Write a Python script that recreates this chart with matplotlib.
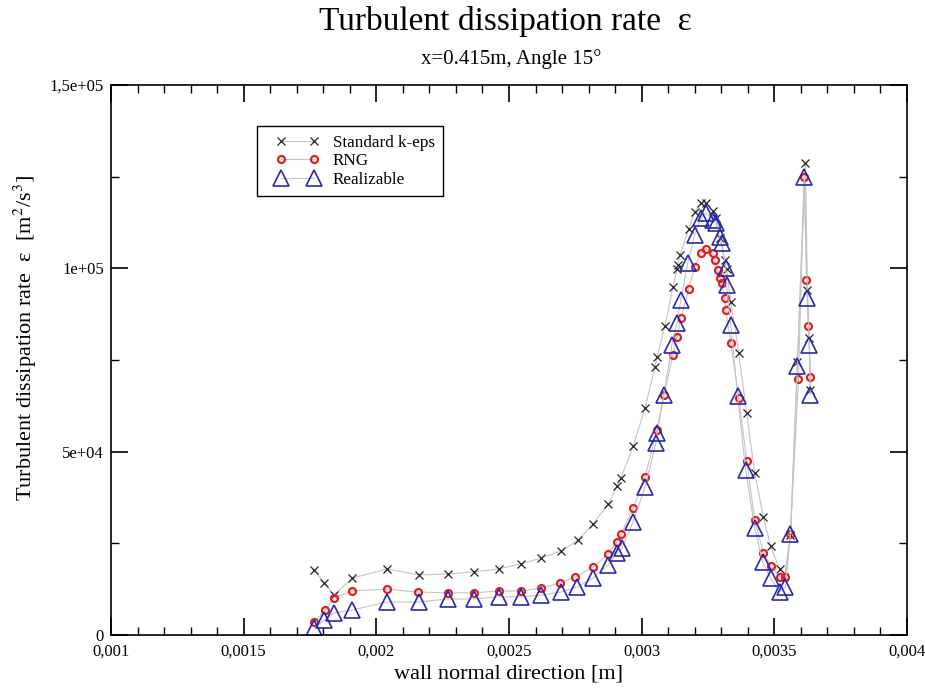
import matplotlib
matplotlib.use("Agg")
import matplotlib.pyplot as plt
from matplotlib.ticker import MultipleLocator
from matplotlib.legend_handler import HandlerLine2D

# wall-normal position [m] and epsilon [m2/s3]
x_std = [0.001766, 0.001804, 0.001841, 0.001909, 0.002040, 0.002160, 0.002269, 0.002367,
         0.002461, 0.002547, 0.002622, 0.002697, 0.002761, 0.002817, 0.002874, 0.002907,
         0.002922, 0.002968, 0.003013, 0.003050, 0.003058, 0.003088, 0.003118, 0.003133,
         0.003137, 0.003144, 0.003178, 0.003200, 0.003223, 0.003242, 0.003268, 0.003279,
         0.003294, 0.003313, 0.003320, 0.003336, 0.003366, 0.003396, 0.003426, 0.003459,
         0.003486, 0.003520, 0.003538, 0.003561, 0.003587, 0.003617, 0.003625, 0.003632,
         0.003636]
eps_std = [17700, 14200, 10900, 15500, 18000, 16400, 16600, 17200, 18000, 19400,
           21000, 22900, 25900, 30300, 35700, 40600, 42800, 51500, 61900, 73100,
           75800, 84300, 94900, 99800, 100900, 103600, 110700, 115400, 117800, 117800,
           115600, 113700, 108300, 102300, 99800, 90800, 76900, 60500, 44200, 32200,
           24300, 18000, 15800, 27300, 74500, 128700, 94100, 81000, 66800]

x_rng = [0.001766, 0.001807, 0.001841, 0.001909, 0.002040, 0.002156, 0.002269, 0.002367,
         0.002461, 0.002547, 0.002622, 0.002693, 0.002750, 0.002817, 0.002874, 0.002907,
         0.002922, 0.002968, 0.003013, 0.003058, 0.003084, 0.003118, 0.003133, 0.003148,
         0.003178, 0.003200, 0.003223, 0.003242, 0.003268, 0.003275, 0.003287, 0.003294,
         0.003302, 0.003313, 0.003317, 0.003336, 0.003366, 0.003396, 0.003426, 0.003459,
         0.003489, 0.003520, 0.003542, 0.003561, 0.003591, 0.003613, 0.003621, 0.003628,
         0.003636]
eps_rng = [3500, 6800, 10100, 12000, 12500, 11700, 11500, 11500, 12000, 12000,
           12800, 14200, 15800, 18500, 22100, 25400, 27500, 34600, 43100, 56000,
           65500, 76400, 81300, 86500, 94400, 100400, 104200, 105300, 104200, 102300,
           99500, 97400, 96000, 91900, 88600, 79600, 64600, 47500, 31400, 22400,
           18800, 15800, 15800, 27500, 69800, 124900, 96800, 84300, 70400]

x_rea = [0.001766, 0.001804, 0.001841, 0.001909, 0.002040, 0.002160, 0.002269, 0.002367,
         0.002461, 0.002547, 0.002622, 0.002697, 0.002757, 0.002817, 0.002874, 0.002907,
         0.002926, 0.002968, 0.003013, 0.003054, 0.003058, 0.003084, 0.003114, 0.003133,
         0.003148, 0.003174, 0.003200, 0.003223, 0.003242, 0.003268, 0.003279, 0.003294,
         0.003302, 0.003317, 0.003320, 0.003336, 0.003362, 0.003392, 0.003426, 0.003456,
         0.003486, 0.003520, 0.003542, 0.003561, 0.003587, 0.003613, 0.003625, 0.003632,
         0.003636]
eps_rea = [1900, 4100, 6000, 6800, 9000, 9000, 9800, 9800, 10400, 10400,
           10900, 11700, 13100, 15500, 19100, 22400, 23700, 30800, 40400, 52400,
           55100, 65500, 79100, 85100, 91400, 101500, 109100, 113700, 115100, 113200,
           112400, 108500, 106900, 100100, 95500, 84500, 65200, 45000, 29200, 19900,
           15500, 11700, 13100, 27500, 73400, 124900, 91900, 79100, 65500]

x_ticks = [0.001, 0.0015, 0.002, 0.0025, 0.003, 0.0035, 0.004]
x_ticklabels = ["0,001", "0,0015", "0,002", "0,0025", "0,003", "0,0035", "0,004"]
y_ticks = [0, 50000, 100000, 150000]
y_ticklabels = ["0", "5e+04", "1e+05", "1,5e+05"]

plt.rcParams["font.family"] = ["Liberation Serif", "DejaVu Serif"]
plt.rcParams["mathtext.fontset"] = "stix"

fig = plt.figure(figsize=(9.25, 6.92), dpi=100)
ax = fig.add_axes([0.12, 0.0824, 0.8605, 0.7948])

line_c = "#c4c4c4"
ax.plot(x_std, eps_std, "-", color=line_c, lw=0.8, marker="x", ms=5.5, mec="#222222",
        mew=0.9, label="Standard k-eps")
ax.plot(x_rng, eps_rng, "-", color=line_c, lw=0.8, marker="o", ms=5, mfc="none",
        mec="#e02020", mew=1.6, label="RNG")
ax.plot(x_rea, eps_rea, "-", color=line_c, lw=0.8, marker="^", ms=11, mfc="none",
        mec="#2a2aa8", mew=1.2, label="Realizable")

ax.set_xlim(0.001, 0.004)
ax.set_ylim(0, 150000)
ax.set_xticks(x_ticks)
ax.set_xticklabels(x_ticklabels)
ax.set_yticks(y_ticks)
ax.set_yticklabels(y_ticklabels)
ax.xaxis.set_minor_locator(MultipleLocator(0.0001))
ax.yaxis.set_minor_locator(MultipleLocator(25000))
ax.tick_params(which="both", direction="in", top=True, right=True, labelsize=12)
ax.tick_params(which="major", length=12, width=1.2)
ax.tick_params(which="minor", length=6, width=1.0)
ax.tick_params(axis="x", which="major", pad=6)
ax.tick_params(axis="y", which="major", pad=5)
for s in ax.spines.values():
    s.set_linewidth(1.2)

ax.set_xlabel("wall normal direction [m]", fontsize=16, labelpad=4)
ax.set_ylabel(r"Turbulent dissipation rate  ε  [m$^2$/s$^3$]", fontsize=16)
ax.yaxis.set_label_coords(-0.09, 0.54)

fig.text(0.546, 0.969, "Turbulent dissipation rate  ε", ha="center", va="center", fontsize=24)
fig.text(0.553, 0.915, "x=0.415m, Angle 15°", ha="center", va="center", fontsize=15)

hm = {ln: HandlerLine2D(numpoints=2, marker_pad=0.9) for ln in ax.get_lines()}
leg = ax.legend(loc="upper left", bbox_to_anchor=(0.183, 0.925), borderaxespad=0,
                handler_map=hm, fontsize=12.3, fancybox=False, framealpha=1,
                edgecolor="black", handlelength=3.75, labelspacing=0.15,
                borderpad=0.5, handletextpad=0.2)
leg.get_frame().set_linewidth(1.0)

fig.savefig("out.png", dpi=100)
